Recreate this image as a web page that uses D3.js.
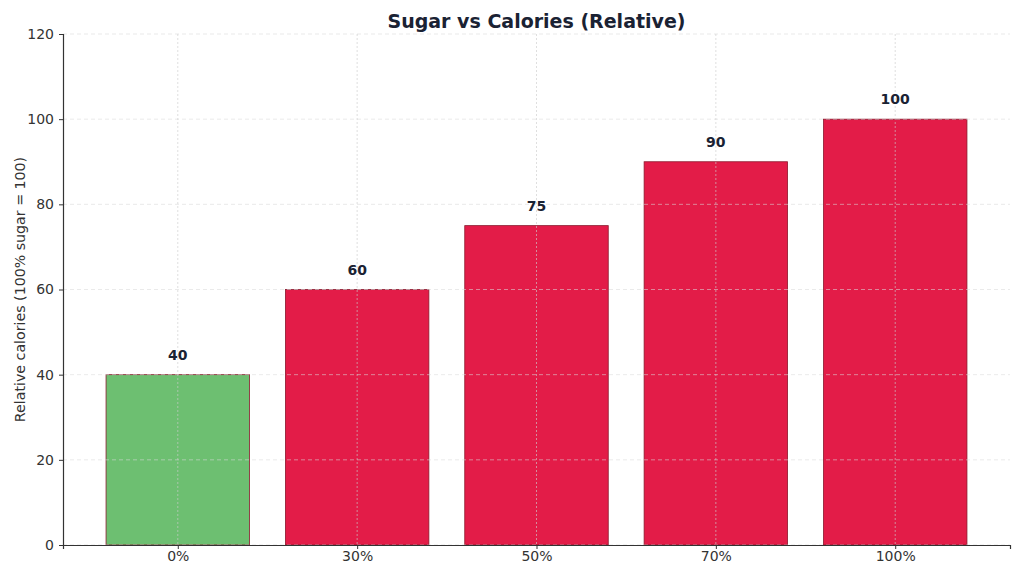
<!DOCTYPE html>
<html>
<head>
<meta charset="UTF-8">
<title>Sugar vs Calories (Relative)</title>
<script src="https://d3js.org/d3.v7.min.js"></script>
<style>
  body { margin: 0; background: #fff; }
  svg { display: block; font-family: 'DejaVu Sans', sans-serif; }
</style>
</head>
<body>
<div id="chart"></div>
<script>
// data
var sugarLevels = ['0%', '30%', '50%', '70%', '100%'];
var calories = [40, 60, 75, 90, 100];
var barColors = ['#6dbf71', '#e31c48', '#e31c48', '#e31c48', '#e31c48'];
var yTicks = [0, 20, 40, 60, 80, 100, 120];

var W = 1024, H = 576;
var margin = {top: 34, right: 14, bottom: 31, left: 63};
var width = W - margin.left - margin.right;
var height = H - margin.top - margin.bottom;

var svg = d3.select('#chart').append('svg')
    .attr('width', W)
    .attr('height', H);

var g = svg.append('g')
    .attr('transform', 'translate(' + margin.left + ',' + margin.top + ')');

// matplotlib style: bar width 0.8, 5% margins on x
var x = d3.scaleLinear()
    .domain([-0.64, sugarLevels.length - 1 + 0.64])
    .range([0, width]);
var bw = x(0.8) - x(0);

var y = d3.scaleLinear()
    .domain([0, 120])
    .range([height, 0]);

// bars
g.selectAll('rect.bar')
    .data(calories)
    .enter()
    .append('rect')
    .attr('class', 'bar')
    .attr('x', (d, i) => x(i) - bw / 2)
    .attr('y', d => y(d))
    .attr('width', bw)
    .attr('height', d => y(0) - y(d))
    .style('fill', (d, i) => barColors[i])
    .style('stroke', '#8b1a2e')
    .style('stroke-width', 0.8);

// grid (drawn over the bars)
g.append('g')
    .selectAll('line')
    .data(yTicks)
    .enter()
    .append('line')
    .attr('x1', 0).attr('x2', width)
    .attr('y1', d => y(d)).attr('y2', d => y(d))
    .style('stroke', '#d9d9d9')
    .style('stroke-opacity', 0.7)
    .style('stroke-dasharray', '4,3')
    .style('stroke-width', 0.8);

g.append('g')
    .selectAll('line')
    .data(sugarLevels)
    .enter()
    .append('line')
    .attr('x1', (d, i) => x(i)).attr('x2', (d, i) => x(i))
    .attr('y1', 0).attr('y2', height)
    .style('stroke', '#cccccc')
    .style('stroke-opacity', 0.8)
    .style('stroke-dasharray', '2,2')
    .style('stroke-width', 0.8);

// value labels
g.selectAll('text.val')
    .data(calories)
    .enter()
    .append('text')
    .attr('class', 'val')
    .attr('x', (d, i) => x(i))
    .attr('y', d => y(d) - 15)
    .attr('text-anchor', 'middle')
    .style('font-size', '14px')
    .style('font-weight', 'bold')
    .style('fill', '#1a2233')
    .text(d => d);

// axes
var xAxis = g.append('g')
    .attr('transform', 'translate(0,' + height + ')')
    .call(d3.axisBottom(x)
        .tickValues(d3.range(sugarLevels.length))
        .tickFormat(i => sugarLevels[i])
        .tickSizeOuter(0)
        .tickSize(4)
        .tickPadding(2));

var yAxis = g.append('g')
    .call(d3.axisLeft(y)
        .tickValues(yTicks)
        .tickSizeOuter(0)
        .tickSize(4)
        .tickPadding(5));

[xAxis, yAxis].forEach(function(a) {
    a.select('.domain').style('stroke', '#333').style('stroke-width', 1.2);
    a.selectAll('.tick line').style('stroke', '#333');
    a.selectAll('.tick text')
        .style('font-size', '14px')
        .style('fill', '#333')
        .style('font-family', 'DejaVu Sans, sans-serif');
});

// title
svg.append('text')
    .attr('x', margin.left + width / 2)
    .attr('y', 28)
    .attr('text-anchor', 'middle')
    .style('font-size', '19px')
    .style('font-weight', 'bold')
    .style('fill', '#1a2233')
    .text('Sugar vs Calories (Relative)');

// y label
svg.append('text')
    .attr('transform', 'translate(25,' + (margin.top + height / 2) + ') rotate(-90)')
    .attr('text-anchor', 'middle')
    .style('font-size', '14.2px')
    .style('fill', '#333')
    .text('Relative calories (100% sugar = 100)');
</script>
</body>
</html>
